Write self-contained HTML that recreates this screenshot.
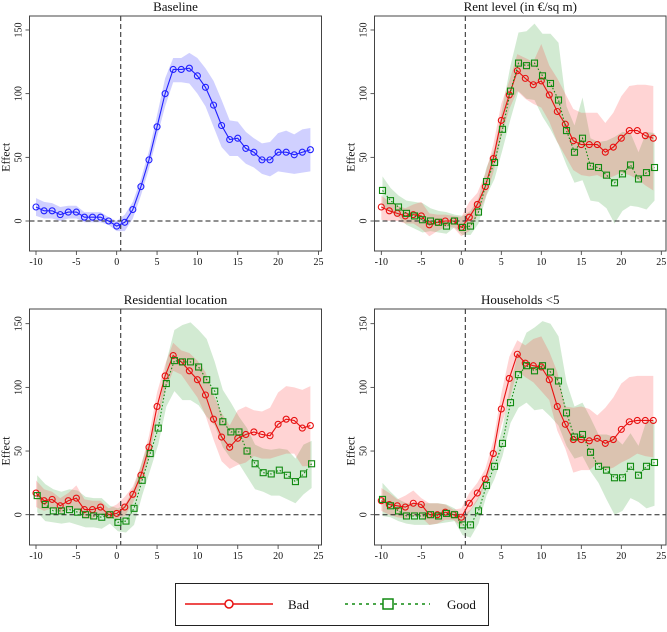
<!DOCTYPE html>
<html><head><meta charset="utf-8"><style>
body{margin:0;background:#fff;width:667px;height:627px;overflow:hidden}
svg text{font-family:"Liberation Serif",serif;fill:#111}
</style></head><body>
<svg id="c" width="667" height="627" xmlns="http://www.w3.org/2000/svg"></svg>
<script>
const periods=[-10,-9,-8,-7,-6,-5,-4,-3,-2,-1,0,1,2,3,4,5,6,7,8,9,10,11,12,13,14,15,16,17,18,19,20,21,22,23,24];
const yTicks=[0,50,100,150];
const xTicks=[-10,-5,0,5,10,15,20,25];
// Baseline
const baseMean=[11,8,8,5,7,7,3,3,3,0,-4,-1,9,27,48,74,100,119,119,120,114,105,91,75,64,65,57,54,48,48,54,54,52,54,56];
const baseHi=[18,15,14,11,12,12,7,7,7,3,0,5,15,33,55,83,112,128,128,132,128,120,110,95,79,78,70,65,61,62,69,71,68,72,73];
const baseLo=[4,2,2,0,2,2,-1,-1,-1,-3,-8,-8,2,20,41,66,90,109,109,108,100,90,74,58,51,51,45,42,37,35,39,38,37,38,39];
// Rent level
const rentBad=[11,8,6,4,5,4,-3,-1,0,0,-5,3,13,27,49,79,99,118,112,107,110,99,86,76,63,60,60,60,54,58,65,71,71,67,65];
const rentBadHi=[20,15,12,10,13,15,6,5,5,4,3,15,22,37,60,92,110,131,128,125,139,122,112,100,88,85,85,85,77,85,98,106,107,107,106];
const rentBadLo=[1,0,0,-2,-2,-6,-12,-8,-5,-5,-12,-8,4,18,38,66,88,102,96,92,89,78,62,51,40,36,35,36,33,35,38,36,33,28,24];
const rentGood=[24,16,11,6,4,1,0,-1,-4,0,-5,-4,7,31,46,72,102,124,122,124,114,108,95,71,54,65,43,42,36,30,37,44,33,38,42];
const rentGoodHi=[35,26,20,16,15,14,10,8,7,5,4,8,18,42,57,89,122,148,149,155,147,147,140,90,75,97,65,62,63,66,70,69,54,70,69];
const rentGoodLo=[12,7,3,-3,-6,-9,-8,-9,-10,-5,-11,-11,-2,20,33,56,80,102,96,95,82,72,60,44,30,32,16,15,10,-2,8,12,11,9,16];
// Residential location
const resBad=[17,11,12,7,11,13,4,4,6,0,1,6,16,31,53,85,109,125,120,113,106,94,75,61,53,60,63,65,63,62,71,75,74,68,70];
const resBadHi=[27,20,18,13,17,23,12,11,11,5,8,14,22,38,62,96,118,135,129,127,121,112,94,80,70,82,85,82,81,84,96,101,100,98,101];
const resBadLo=[6,3,5,1,4,5,-3,-3,1,-3,-3,-1,9,25,45,75,97,113,110,101,92,78,59,42,36,39,41,46,44,44,46,48,48,38,38];
const resGood=[15,8,3,3,4,2,0,-1,-2,0,-6,-5,5,27,48,68,103,121,120,120,116,106,97,73,65,65,50,40,33,32,35,31,26,32,40];
const resGoodHi=[31,24,20,18,20,19,14,13,13,7,5,9,22,42,60,80,120,145,149,151,145,138,120,98,88,77,68,55,52,51,52,51,44,55,58];
const resGoodLo=[2,-5,-6,-7,-6,-8,-10,-10,-11,-7,-13,-14,-8,15,35,55,85,97,90,90,86,77,70,53,44,40,30,20,18,15,15,12,9,16,21];
// Households <5
const hhBad=[11,8,7,6,9,8,0,0,2,0,-2,9,17,28,48,83,107,126,119,117,116,106,85,71,59,59,58,60,56,59,67,73,74,74,74];
const hhBadHi=[21,17,12,15,19,13,9,9,8,4,5,17,25,36,58,95,124,137,133,138,140,128,112,85,84,85,83,78,84,92,103,108,109,109,109];
const hhBadLo=[3,0,-2,-3,-1,-2,-8,-7,-4,-4,-9,2,11,23,42,70,90,113,108,104,97,90,66,52,33,35,35,40,35,37,41,44,48,46,45];
const hhGood=[12,7,3,-1,-1,-1,0,-1,1,0,-8,-8,3,23,38,56,88,110,117,113,117,112,105,80,61,63,49,38,35,29,29,38,31,38,41];
const hhGoodHi=[25,18,12,9,9,9,9,9,8,5,-1,4,14,31,46,68,103,128,143,147,152,150,140,104,85,88,76,63,63,61,55,64,54,74,74];
const hhGoodLo=[-1,-2,-5,-7,-8,-8,-8,-7,-6,-5,-16,-18,-7,15,28,46,72,84,88,82,83,77,70,54,44,46,34,25,12,0,3,13,10,5,7];

const NS="http://www.w3.org/2000/svg";
const svg=document.getElementById('c');
function el(t,a,p){const e=document.createElementNS(NS,t);for(const k in a)e.setAttribute(k,a[k]);(p||svg).appendChild(e);return e;}

const panels=[
 {title:"Baseline",name:"baseline",bx0:29.5,bx1:321.5,by0:16,by1:251,x0:36,xs:8.07,y0:221,
  series:[{m:baseMean,hi:baseHi,lo:baseLo,col:"#2020ff",fill:"rgba(40,40,255,0.22)",type:"blue",off:0,n:"baseline"}]},
 {title:"Rent level (in €/sq m)",name:"rent-level",bx0:374.5,bx1:666,by0:16,by1:251,x0:381.3,xs:8.0,y0:221,
  series:[{m:rentGood,hi:rentGoodHi,lo:rentGoodLo,col:"#108a10",fill:"rgba(30,150,30,0.2)",type:"good",off:0.15,n:"good"},
          {m:rentBad,hi:rentBadHi,lo:rentBadLo,col:"#e81010",fill:"rgba(255,40,40,0.2)",type:"bad",off:0,n:"bad"}]},
 {title:"Residential location",name:"residential-location",bx0:29.5,bx1:321.5,by0:309,by1:545,x0:36,xs:8.07,y0:514.7,
  series:[{m:resGood,hi:resGoodHi,lo:resGoodLo,col:"#108a10",fill:"rgba(30,150,30,0.2)",type:"good",off:0.15,n:"good"},
          {m:resBad,hi:resBadHi,lo:resBadLo,col:"#e81010",fill:"rgba(255,40,40,0.2)",type:"bad",off:0,n:"bad"}]},
 {title:"Households <5",name:"households-under-5",bx0:374.5,bx1:666,by0:309,by1:545,x0:381.3,xs:8.0,y0:514.7,
  series:[{m:hhGood,hi:hhGoodHi,lo:hhGoodLo,col:"#108a10",fill:"rgba(30,150,30,0.2)",type:"good",off:0.15,n:"good"},
          {m:hhBad,hi:hhBadHi,lo:hhBadLo,col:"#e81010",fill:"rgba(255,40,40,0.2)",type:"bad",off:0,n:"bad"}]}
];
const ys=63.67/50;
panels.forEach(p=>{
  const g=el('g',{});
  
  
  const X=v=>p.x0+(v+10)*p.xs, Y=v=>p.y0-v*ys;
  const cx=(p.bx0+p.bx1)/2;
  const t=el('text',{x:cx,y:p.by0-5,'text-anchor':'middle','font-size':13},g);t.textContent=p.title;
  
  const yl=el('text',{x:0,y:0,'text-anchor':'middle','font-size':12,transform:`translate(${p.bx0-20},${Y(50)}) rotate(-90)`},g);yl.textContent="Effect";
  
  yTicks.forEach(v=>{
    el('line',{x1:p.bx0-4,x2:p.bx0,y1:Y(v),y2:Y(v),stroke:'#333','stroke-width':0.8},g);
    const tt=el('text',{x:0,y:0,'text-anchor':'middle','font-size':10,transform:`translate(${p.bx0-8},${Y(v)}) rotate(-90)`},g);tt.textContent=v;
    
  });
  xTicks.forEach(v=>{
    el('line',{x1:X(v),x2:X(v),y1:p.by1,y2:p.by1+4,stroke:'#333','stroke-width':0.8},g);
    const tt=el('text',{x:X(v),y:p.by1+14,'text-anchor':'middle','font-size':10},g);tt.textContent=v;
    
  });
  p.series.forEach(s=>{
    let d=periods.map((k,i)=>(i?'L':'M')+X(k+s.off)+','+Y(s.hi[i])).join('');
    for(let i=periods.length-1;i>=0;i--)d+='L'+X(periods[i]+s.off)+','+Y(s.lo[i]);
    const b=el('path',{d:d+'Z',fill:s.fill,stroke:'none'},g);
    
  });
  el('line',{x1:p.bx0,x2:p.bx1,y1:Y(0),y2:Y(0),stroke:'#222','stroke-width':1,'stroke-dasharray':'5,3'},g);
  el('line',{x1:X(0.5),x2:X(0.5),y1:p.by0,y2:p.by1,stroke:'#222','stroke-width':1,'stroke-dasharray':'5,3'},g);
  p.series.slice().reverse().forEach(s=>{
    const ln=el('polyline',{points:periods.map((k,i)=>X(k+s.off)+','+Y(s.m[i])).join(' '),fill:'none',stroke:s.col,'stroke-width':1.1,'stroke-dasharray':s.type=='good'?'1.5,2':'none'},g);
    
    periods.forEach((k,i)=>{
      let m;
      if(s.type=='good') m=el('rect',{x:X(k+s.off)-3,y:Y(s.m[i])-3,width:6,height:6,fill:'none',stroke:s.col,'stroke-width':1.1},g);
      else m=el('circle',{cx:X(k+s.off),cy:Y(s.m[i]),r:3,fill:'none',stroke:s.col,'stroke-width':1.1},g);
      
    });
  });
  el('rect',{x:p.bx0,y:p.by0,width:p.bx1-p.bx0,height:p.by1-p.by0,fill:'none',stroke:'#444','stroke-width':1},g);
});
</script>
<svg style="position:absolute;left:0;top:0" width="667" height="627">
 <rect x="175.5" y="583.5" width="313" height="42" fill="#fff" stroke="#222" stroke-width="1"/>
 <g>
  <line x1="185" y1="604" x2="273" y2="604" stroke="#e81010" stroke-width="1.5"/>
  <circle cx="229" cy="604" r="4" fill="#fff" stroke="#e81010" stroke-width="1.5"/>
  <text x="288" y="609" font-size="13" style="font-family:'Liberation Serif',serif">Bad</text>
 </g>
 <g>
  <line x1="345" y1="604" x2="430" y2="604" stroke="#108a10" stroke-width="1.5" stroke-dasharray="3,4"/>
  <rect x="383" y="599" width="10" height="10" fill="#fff" stroke="#108a10" stroke-width="1.5"/>
  <text x="447" y="609" font-size="13" style="font-family:'Liberation Serif',serif">Good</text>
 </g>
</svg>
</body></html>
